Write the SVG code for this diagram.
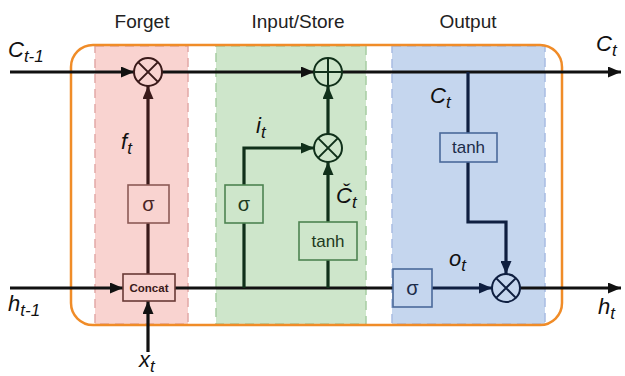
<svg xmlns="http://www.w3.org/2000/svg" width="625" height="376" viewBox="0 0 625 376">
  <style>
    .title { font-family: "Liberation Sans", Arial, sans-serif; font-size: 19px; fill: #222; text-anchor: middle; }
    .var { font-family: "Liberation Sans", Arial, sans-serif; font-style: italic; font-size: 22px; fill: #111; }
    .sub { font-size: 17px; }
    .boxtxt { font-family: "Liberation Sans", Arial, sans-serif; font-size: 17px; text-anchor: middle; dominant-baseline: central; }
    .sig { font-size: 20px; }
    .ln { fill: none; stroke-width: 3.2; }
    .op { fill: none; stroke-width: 2; }
    .box { stroke-width: 1.6; }
    .f { stroke: #3a1a1a; }
    .i { stroke: #10301a; }
    .o { stroke: #0f1f40; }
    .k { stroke: #111; }
  </style>
  <defs>
    <marker id="ak" markerUnits="userSpaceOnUse" markerWidth="13" markerHeight="11" refX="13" refY="5.5" orient="auto"><path d="M0,0 L13,5.5 L0,11 z" fill="#111"/></marker>
    <marker id="af" markerUnits="userSpaceOnUse" markerWidth="13" markerHeight="11" refX="13" refY="5.5" orient="auto"><path d="M0,0 L13,5.5 L0,11 z" fill="#3a1a1a"/></marker>
    <marker id="ai" markerUnits="userSpaceOnUse" markerWidth="13" markerHeight="11" refX="13" refY="5.5" orient="auto"><path d="M0,0 L13,5.5 L0,11 z" fill="#10301a"/></marker>
    <marker id="ao" markerUnits="userSpaceOnUse" markerWidth="13" markerHeight="11" refX="13" refY="5.5" orient="auto"><path d="M0,0 L13,5.5 L0,11 z" fill="#0f1f40"/></marker>
  </defs>

  <rect width="625" height="376" fill="#fff"/>

  <!-- bands -->
  <g id="bands">
    <rect x="95" y="46" width="93" height="278" fill="#f9d3d0" stroke="#e2a9a6" stroke-width="1.5" stroke-dasharray="9,6"/>
    <rect x="216" y="46" width="150" height="278" fill="#cee6cb" stroke="#a6cda3" stroke-width="1.5" stroke-dasharray="9,6"/>
    <rect x="392" y="46" width="153" height="278" fill="#c5d6ee" stroke="#a8bce2" stroke-width="1.5" stroke-dasharray="9,6"/>
  </g>
  <rect id="cell" x="71" y="45" width="491" height="280" rx="22" fill="none" stroke="#f08c28" stroke-width="2.5"/>

  <g id="titles">
    <text class="title" x="142" y="28">Forget</text>
    <text class="title" x="298" y="28">Input/Store</text>
    <text class="title" x="468" y="28">Output</text>
  </g>

  <g id="connectors">
    <!-- cell state -->
    <line class="ln k" x1="10" y1="72" x2="134" y2="72" marker-end="url(#ak)"/>
    <line class="ln k" x1="162" y1="72" x2="314" y2="72" marker-end="url(#ak)"/>
    <line class="ln k" x1="342" y1="72" x2="621" y2="72" marker-end="url(#ak)"/>
    <!-- hidden state -->
    <line class="ln k" x1="10" y1="288" x2="123" y2="288" marker-end="url(#ak)"/>
    <line class="ln k" x1="175" y1="288" x2="393" y2="288"/>
    <line class="ln o" x1="432" y1="288" x2="492" y2="288" marker-end="url(#ao)"/>
    <line class="ln k" x1="520" y1="288" x2="621" y2="288" marker-end="url(#ak)"/>
    <!-- x_t -->
    <line class="ln k" x1="148" y1="352" x2="148" y2="301" marker-end="url(#ak)"/>
    <!-- forget -->
    <line class="ln f" x1="148" y1="274" x2="148" y2="223"/>
    <line class="ln f" x1="148" y1="185" x2="148" y2="86" marker-end="url(#af)"/>
    <!-- input -->
    <line class="ln i" x1="244" y1="288" x2="244" y2="223"/>
    <polyline class="ln i" points="244,185 244,148 314,148" marker-end="url(#ai)"/>
    <line class="ln i" x1="328" y1="288" x2="328" y2="260"/>
    <line class="ln i" x1="328" y1="222" x2="328" y2="162" marker-end="url(#ai)"/>
    <line class="ln i" x1="328" y1="134" x2="328" y2="86" marker-end="url(#ai)"/>
    <!-- output -->
    <line class="ln o" x1="468" y1="72" x2="468" y2="133"/>
    <polyline class="ln o" points="468,162 468,222 506,222 506,274" marker-end="url(#ao)"/>
  </g>

  <g id="forget_mul">
    <circle class="op f" cx="148" cy="72" r="14"/>
    <path class="op f" d="M138.1,62.1 L157.9,81.9 M157.9,62.1 L138.1,81.9"/>
  </g>
  <g id="add">
    <circle class="op i" cx="328" cy="72" r="14"/>
    <path class="op i" d="M328,58 V86 M314,72 H342"/>
  </g>
  <g id="input_mul">
    <circle class="op i" cx="328" cy="148" r="14"/>
    <path class="op i" d="M318.1,138.1 L337.9,157.9 M337.9,138.1 L318.1,157.9"/>
  </g>
  <g id="output_mul">
    <circle class="op o" cx="506" cy="288" r="14"/>
    <path class="op o" d="M496.1,278.1 L515.9,297.9 M515.9,278.1 L496.1,297.9"/>
  </g>

  <g id="forget_sigma">
    <rect class="box" x="128" y="185" width="41" height="38" fill="#f9d3d0" stroke="#8c5a56"/>
    <text class="boxtxt sig" x="148.5" y="204" fill="#4a2424">σ</text>
  </g>
  <g id="concat">
    <rect class="box" x="123" y="274" width="52" height="27" fill="#f9d3d0" stroke="#6a3a36"/>
    <text class="boxtxt" x="149" y="288" fill="#3a1a1a" style="font-size:11.5px;font-weight:bold">Concat</text>
  </g>
  <g id="input_sigma">
    <rect class="box" x="225" y="185" width="38" height="38" fill="#cee6cb" stroke="#4e8452"/>
    <text class="boxtxt sig" x="244" y="204" fill="#1c3a20">σ</text>
  </g>
  <g id="input_tanh">
    <rect class="box" x="299" y="222" width="58" height="38" fill="#cee6cb" stroke="#4e8452"/>
    <text class="boxtxt" x="328" y="241" fill="#1c3a20">tanh</text>
  </g>
  <g id="output_tanh">
    <rect class="box" x="440" y="133" width="57" height="29" fill="#c5d6ee" stroke="#4a6a9a"/>
    <text class="boxtxt" x="468.5" y="147.5" fill="#1c2c4a">tanh</text>
  </g>
  <g id="output_sigma">
    <rect class="box" x="393" y="269" width="39" height="38" fill="#c5d6ee" stroke="#4a6a9a"/>
    <text class="boxtxt sig" x="412.5" y="288" fill="#1c2c4a">σ</text>
  </g>

  <g id="labels">
    <text class="var" x="8" y="57">C<tspan class="sub" dy="5">t-1</tspan></text>
    <text class="var" x="8" y="311">h<tspan class="sub" dy="5">t-1</tspan></text>
    <text class="var" x="139" y="367">x<tspan class="sub" dy="5">t</tspan></text>
    <text class="var" x="121" y="149">f<tspan class="sub" dy="5">t</tspan></text>
    <text class="var" x="256" y="133">i<tspan class="sub" dy="5">t</tspan></text>
    <text class="var" x="336" y="203">Č<tspan class="sub" dy="5">t</tspan></text>
    <text class="var" x="430" y="103">C<tspan class="sub" dy="5">t</tspan></text>
    <text class="var" x="449" y="266">o<tspan class="sub" dy="5">t</tspan></text>
    <text class="var" x="596" y="51">C<tspan class="sub" dy="5">t</tspan></text>
    <text class="var" x="598" y="314">h<tspan class="sub" dy="5">t</tspan></text>
  </g>
</svg>
